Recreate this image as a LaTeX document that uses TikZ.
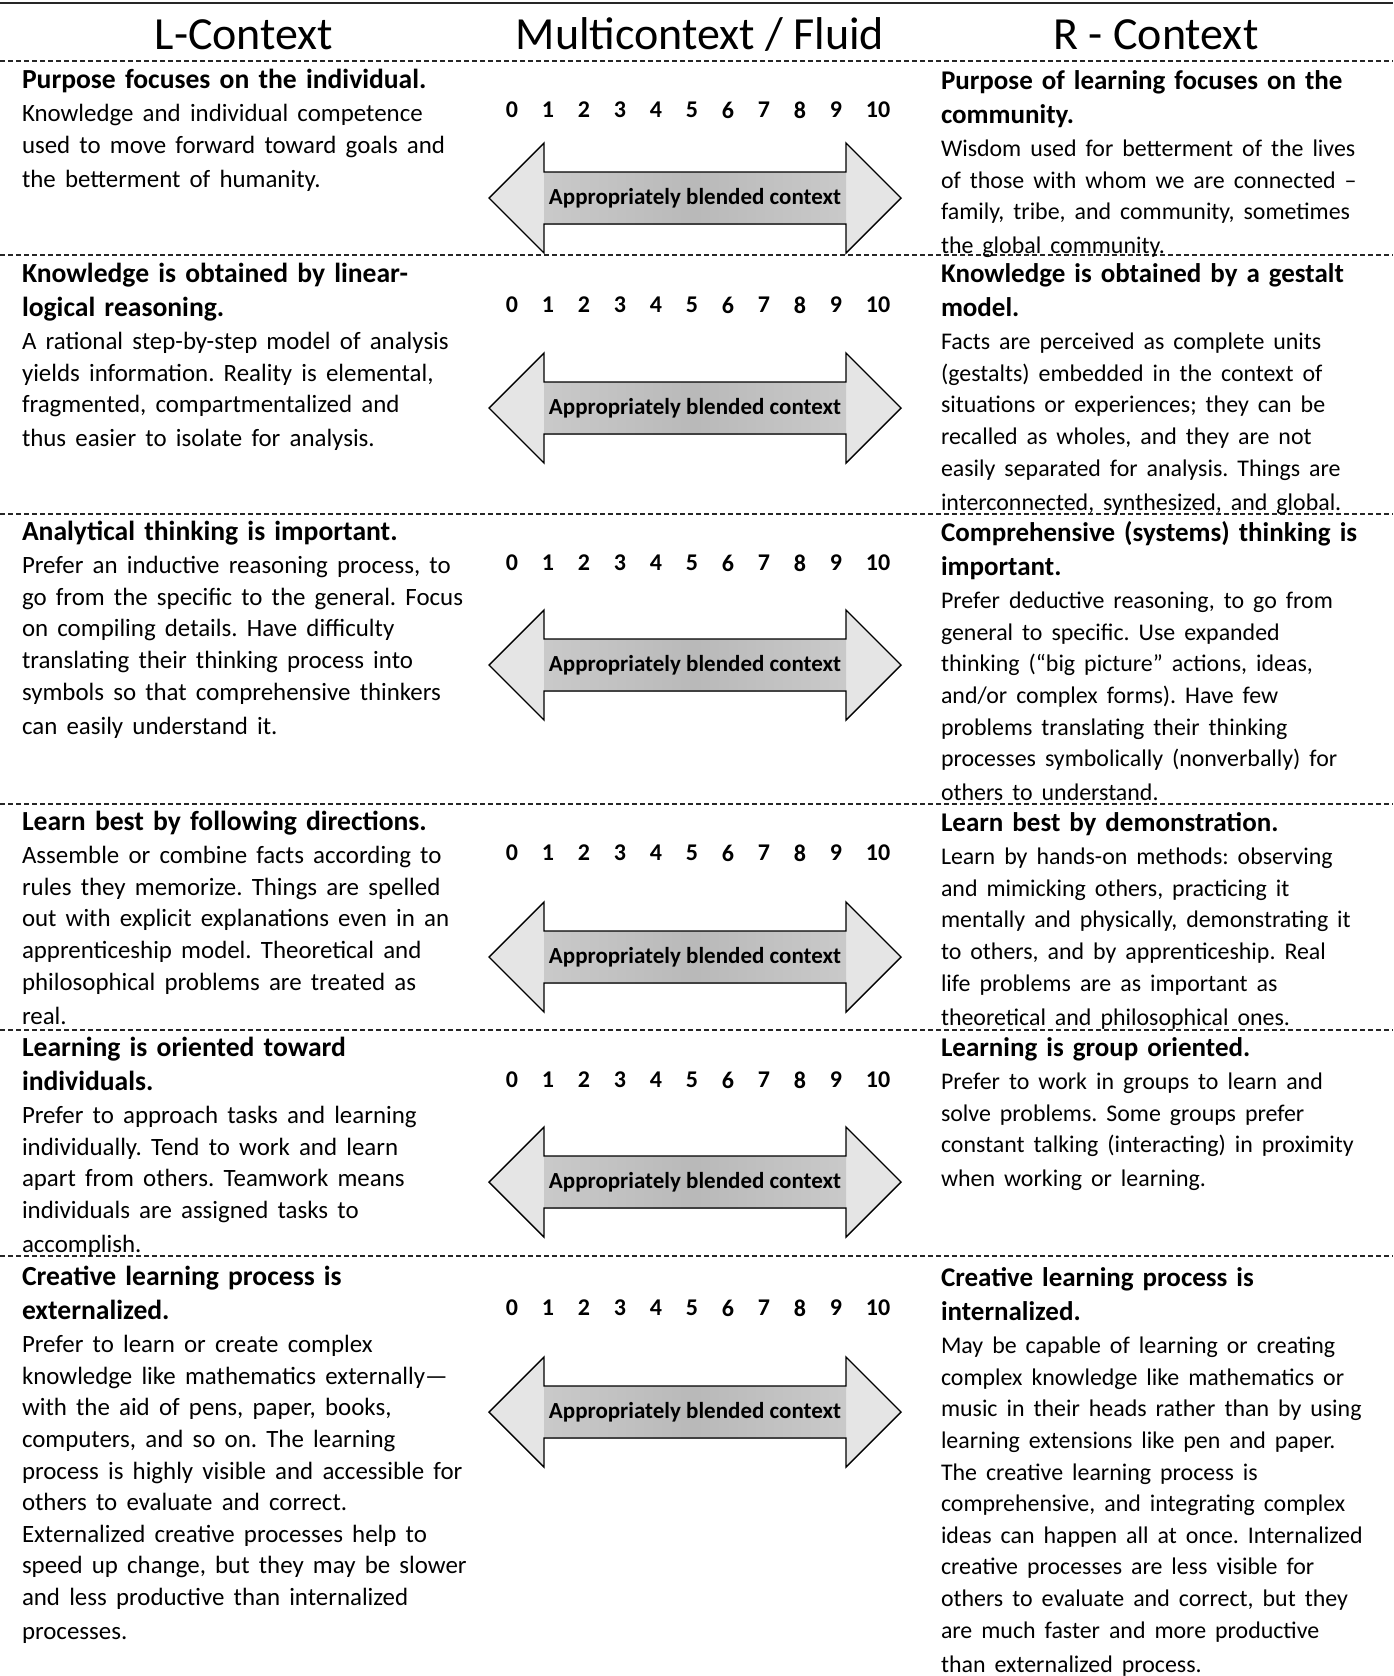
\documentclass[tikz,border=0pt]{standalone}
\usepackage{fontspec}
\setmainfont{Carlito}
\frenchspacing
\newcommand\lhdfont{\fontsize{27.6}{34}\selectfont\bfseries}
\newcommand\rhdfont{\fontsize{27.0}{34}\selectfont\bfseries}
\newcommand\lbody{\par\vspace{2pt}\fontsize{24.9}{31.6}\selectfont\mdseries}
\newcommand\rbody{\par\vspace{2pt}\fontsize{23.9}{31.6}\selectfont\mdseries}
\tikzset{
  coltext/.style={inner sep=0pt, outer sep=0pt, align=left, text width=540pt, anchor=base west},
  lcol/.style={coltext, font=\lhdfont},
  rcol/.style={coltext, font=\rhdfont},
  sepline/.style={line width=1.1pt, dash pattern=on 5pt off 3pt, black!85},
  topline/.style={line width=1.6pt, black!85},
  headtext/.style={font=\fontsize{46}{52}\selectfont, anchor=base, inner sep=0pt},
  digit/.style={font=\fontsize{24}{30}\selectfont\bfseries, inner sep=0pt},
  blendlabel/.style={font=\fontsize{23}{28}\selectfont\bfseries, inner sep=0pt},
  arrowline/.style={line width=1.4pt, black, line join=miter},
}
\newcommand\blendarrow[2]{%
  \fill[gray!20] (489,#2) -- (544,#2-55) -- (544,#2-26) -- (846,#2-26) -- (846,#2-55) -- (901,#2) -- (846,#2+55) -- (846,#2+26) -- (544,#2+26) -- (544,#2+55) -- cycle;
  \shade[left color=gray!42, right color=gray!42, middle color=gray!55] (544,#2-26) rectangle (846,#2+26);
  \draw[arrowline] (489,#2) -- (544,#2-55) -- (544,#2-26) -- (846,#2-26) -- (846,#2-55) -- (901,#2) -- (846,#2+55) -- (846,#2+26) -- (544,#2+26) -- (544,#2+55) -- cycle;
  \node[blendlabel] (#1) at (695,#2) {Appropriately blended context};
}
\newcommand\digitrow[2]{%
  \foreach \i in {0,...,9}{\node[digit] (#1-\i) at ({512+36*\i},#2) {\i};}
  \node[digit] (#1-10) at (878,#2) {10};
}
\begin{document}
\begin{tikzpicture}[x=1pt,y=-1pt]
\useasboundingbox (0,0) rectangle (1393,1676);
% header
\draw[topline] (0,3) -- (1393,3);
\node[headtext] (hl) at (244,49) {L-Context};
\node[headtext] (hm) at (700,49) {Multicontext / Fluid};
\node[headtext] (hr) at (1156,49) {R - Context};
\foreach \yy in {61,255,514,804,1030,1256}{\draw[sepline] (0,\yy) -- (1393,\yy);}

% row 1
\node[lcol] (l1) at (22,88) {Purpose focuses on the individual.\lbody
Knowledge and individual competence\\used to move forward toward goals and\\the betterment of humanity.};
\node[rcol] (r1) at (941,89) {Purpose of learning focuses on the\\community.\rbody
Wisdom used for betterment of the lives\\of those with whom we are connected –\\family, tribe, and community, sometimes\\the global community.};
\digitrow{n1}{110}
\blendarrow{a1}{198}

% row 2
\node[lcol] (l2) at (22,282) {Knowledge is obtained by linear-\\logical reasoning.\lbody
A rational step-by-step model of analysis\\yields information. Reality is elemental,\\fragmented, compartmentalized and\\thus easier to isolate for analysis.};
\node[rcol] (r2) at (941,282) {Knowledge is obtained by a gestalt\\model.\rbody
Facts are perceived as complete units\\(gestalts) embedded in the context of\\situations or experiences; they can be\\recalled as wholes, and they are not\\easily separated for analysis. Things are\\interconnected, synthesized, and global.};
\digitrow{n2}{305}
\blendarrow{a2}{408}

% row 3
\node[lcol] (l3) at (22,540) {Analytical thinking is important.\lbody
Prefer an inductive reasoning process, to\\go from the specific to the general. Focus\\on compiling details. Have difficulty\\translating their thinking process into\\symbols so that comprehensive thinkers\\can easily understand it.};
\node[rcol] (r3) at (941,541) {Comprehensive (systems) thinking is\\important.\rbody
Prefer deductive reasoning, to go from\\general to specific. Use expanded\\thinking (“big picture” actions, ideas,\\and/or complex forms). Have few\\problems translating their thinking\\processes symbolically (nonverbally) for\\others to understand.};
\digitrow{n3}{563}
\blendarrow{a3}{665}

% row 4
\node[lcol] (l4) at (22,830) {Learn best by following directions.\lbody
Assemble or combine facts according to\\rules they memorize. Things are spelled\\out with explicit explanations even in an\\apprenticeship model. Theoretical and\\philosophical problems are treated as\\real.};
\node[rcol] (r4) at (941,831) {Learn best by demonstration.\rbody
Learn by hands-on methods: observing\\and mimicking others, practicing it\\mentally and physically, demonstrating it\\to others, and by apprenticeship. Real\\life problems are as important as\\theoretical and philosophical ones.};
\digitrow{n4}{853}
\blendarrow{a4}{957}

% row 5
\node[lcol] (l5) at (22,1056) {Learning is oriented toward\\individuals.\lbody
Prefer to approach tasks and learning\\individually. Tend to work and learn\\apart from others. Teamwork means\\individuals are assigned tasks to\\accomplish.};
\node[rcol] (r5) at (941,1056) {Learning is group oriented.\rbody
Prefer to work in groups to learn and\\solve problems. Some groups prefer\\constant talking (interacting) in proximity\\when working or learning.};
\digitrow{n5}{1080}
\blendarrow{a5}{1182}

% row 6
\node[lcol] (l6) at (22,1285) {Creative learning process is\\externalized.\lbody
Prefer to learn or create complex\\knowledge like mathematics externally—\\with the aid of pens, paper, books,\\computers, and so on. The learning\\process is highly visible and accessible for\\others to evaluate and correct.\\Externalized creative processes help to\\speed up change, but they may be slower\\and less productive than internalized\\processes.};
\node[rcol] (r6) at (941,1286) {Creative learning process is\\internalized.\rbody
May be capable of learning or creating\\complex knowledge like mathematics or\\music in their heads rather than by using\\learning extensions like pen and paper.\\The creative learning process is\\comprehensive, and integrating complex\\ideas can happen all at once. Internalized\\creative processes are less visible for\\others to evaluate and correct, but they\\are much faster and more productive\\than externalized process.};
\digitrow{n6}{1308}
\blendarrow{a6}{1412}
\end{tikzpicture}
\end{document}
